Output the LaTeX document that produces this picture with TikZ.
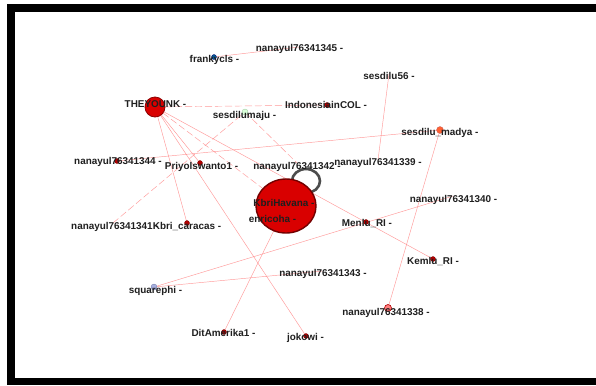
\documentclass[tikz,border=0pt]{standalone}
\usepackage{fontspec}
\setmainfont{Liberation Sans}
\begin{document}
\begin{tikzpicture}[x=1bp,y=-1bp,
  lbl/.style={font=\bfseries\fontsize{9.9bp}{10bp}\selectfont, text=black!88, inner sep=0pt, anchor=base},
  edge/.style={draw=red!50!white, line width=0.45bp, opacity=0.8},
  dedge/.style={edge, dash pattern=on 7bp off 3bp},
  dot/.style={circle, inner sep=0pt, minimum size=5bp, fill=red!70!black, draw=red!50!black, line width=0.3bp},
  hid/.style={circle, inner sep=0pt, minimum size=1bp}
]
\useasboundingbox (0,0) rectangle (596,385);
\fill[white] (0,0) rectangle (596,385);
\fill[black] (7,4) rectangle (600,385);
\fill[white] (15,12) rectangle (600,378);

% node coordinates
\node[hid] (frank) at (214,57) {};
\node[hid] (n345) at (299,47) {};
\node[hid] (they) at (155,107) {};
\node[hid] (maju) at (245,112) {};
\node[hid] (indo) at (327,105) {};
\node[hid] (s56) at (389,74) {};
\node[hid] (madya) at (440,130) {};
\node[hid] (n344) at (117,161) {};
\node[hid] (priyo) at (200,163) {};
\node[hid] (n342) at (297,163) {};
\node[hid] (n339) at (378,160) {};
\node[hid] (kbri) at (286,206) {};
\node[hid] (enri) at (272,216) {};
\node[hid] (n340) at (453,196) {};
\node[hid] (menlu) at (366,222) {};
\node[hid] (kemlu) at (433,259) {};
\node[hid] (n343) at (322,271) {};
\node[hid] (n338) at (388,308) {};
\node[hid] (joko) at (306,336) {};
\node[hid] (dit) at (224,332) {};
\node[hid] (sq) at (154,287) {};
\node[hid] (cara) at (187,223) {};
\node[hid] (n341) at (113,223) {};

% edges
\draw[edge] (frank.center) -- (n345.center);
\draw[dedge] (they.center) -- (indo.center);
\draw[edge] (they.center) -- (cara.center);
\draw[edge] (they.center) -- (joko.center);
\draw[edge] (they.center) -- (priyo.center);
\draw[dedge] (they.center) -- (kbri.center);
\draw[edge] (they.center) -- (kemlu.center);
\draw[edge] (n344.center) -- (madya.center);
\draw[dedge] (maju.center) -- (n342.center);
\draw[dedge] (n341.center) -- (maju.center);
\draw[edge] (s56.center) -- (n339.center);
\draw[edge] (madya.center) -- (n338.center);
\draw[edge] (sq.center) -- (n340.center);
\draw[edge] (sq.center) -- (n343.center);
\draw[edge] (kbri.center) -- (dit.center);

% node circles
\draw[line width=2.6bp, draw=black!70] (306,181) ellipse [x radius=14, y radius=12];
\node[circle, minimum size=20bp, inner sep=0pt, fill=red!85!black, draw=red!55!black, line width=0.8bp] at (they) {};
\node[circle, minimum size=5bp, inner sep=0pt, fill=blue!40!cyan!60!black, draw=blue!40!black, line width=0.3bp] at (frank) {};
\node[circle, minimum size=6bp, inner sep=0pt, fill=green!15!white, draw=green!40!black!40, line width=0.3bp] at (maju) {};
\node[dot] at (indo) {};
\node[circle, minimum size=7bp, inner sep=0pt, fill=red!55!orange!80, draw=red!60!black!60, line width=0.3bp] at (madya) {};
\node[dot] at (n344) {};
\node[dot] at (priyo) {};
\node[dot] at (cara) {};
\node[dot] at (menlu) {};
\node[dot] at (kemlu) {};
\node[dot] at (joko) {};
\node[dot] at (dit) {};
\node[circle, minimum size=7bp, inner sep=0pt, fill=red!50!white, draw=red!70!black, line width=0.6bp] at (n338) {};
\node[circle, minimum size=6bp, inner sep=0pt, fill=cyan!30!blue!35!white, draw=cyan!30!blue!50!gray, line width=0.3bp] at (sq) {};
\draw[fill=red!85!black, draw=red!45!black, line width=1.4bp] (kbri) ellipse [x radius=30, y radius=27];

% labels
\node[lbl] at (214.5,62) {frankycls -};
\node[lbl] at (299.5,51.5) {nanayul76341345 -};
\node[lbl] at (155.5,107.5) {THEYOUNK -};
\node[lbl] at (244.5,118.5) {sesdilumaju -};
\node[lbl] at (326,108.5) {IndonesiainCOL -};
\node[lbl] at (389,79.5) {sesdilu56 -};
\node[lbl] at (440,135.5) {sesdilu\_madya -};
\node[lbl] at (118,164.5) {nanayul76341344 -};
\node[lbl] at (201.5,169.5) {Priyolswanto1 -};
\node[lbl] at (297,169.5) {nanayul76341342 -};
\node[lbl] at (378,165.5) {nanayul76341339 -};
\node[lbl] at (284,206.5) {KbriHavana -};
\node[lbl] at (272.5,222.5) {enricoha -};
\node[lbl] at (453.5,202.5) {nanayul76341340 -};
\node[lbl] at (367,226.5) {Menlu\_RI -};
\node[lbl] at (433,264.5) {Kemlu\_RI -};
\node[lbl] at (323,276.5) {nanayul76341343 -};
\node[lbl] at (386,315.5) {nanayul76341338 -};
\node[lbl] at (305.5,340.5) {jokowi -};
\node[lbl] at (223.5,336.5) {DitAmerika1 -};
\node[lbl] at (155.5,293.5) {squarephi -};
\node[lbl] at (187,229.5) {Kbri\_caracas -};
\node[lbl] at (115,229.5) {nanayul76341341 -};
\end{tikzpicture}
\end{document}
